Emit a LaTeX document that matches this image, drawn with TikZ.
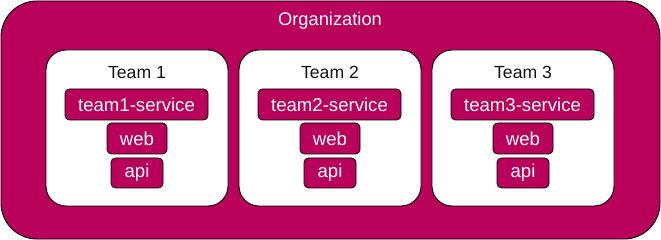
\documentclass[tikz,border=0pt]{standalone}
\usepackage{fontspec}
\setmainfont{Liberation Sans}
\definecolor{orgfill}{RGB}{185,0,90}
\definecolor{titletext}{RGB}{20,20,20}
\begin{document}
\begin{tikzpicture}[x=1pt,y=-1pt,
  orgbox/.style={draw=black,line width=0.9pt,fill=orgfill,rounded corners=36pt},
  teambox/.style={draw=black,line width=0.9pt,fill=white,rounded corners=20pt},
  svcbox/.style={draw=black,line width=0.8pt,fill=orgfill,rounded corners=4.5pt,
    text=white,inner sep=0pt,font=\fontsize{18.6}{20}\selectfont},
  lbl/.style={inner sep=0pt,font=\fontsize{18.3}{20}\selectfont}]
\useasboundingbox (0,0) rectangle (661,240);
% organization frame
\draw[orgbox] (1,1) rectangle (660,239);
\node[lbl,text=white] (org) at (330,21) {Organization};
% one white card per team, each holding its service, web and api
\foreach \i in {1,2,3}{
  \pgfmathsetmacro{\dx}{(\i-1)*193}
  \begin{scope}[xshift=\dx]
    \draw[teambox] (46,50) rectangle (228,206);
    \node[lbl,text=titletext,font=\fontsize{17.6}{20}\selectfont] (team\i) at (137,72.5) {Team \i};
    \node[svcbox,minimum width=143pt,minimum height=31pt] (svc\i) at (136.5,104.5) {team\i-service};
    \node[svcbox,minimum width=60pt,minimum height=31pt] (web\i) at (137,138.5) {web};
    \node[svcbox,minimum width=52pt,minimum height=30pt] (api\i) at (137,173) {api};
  \end{scope}
}
\end{tikzpicture}
\end{document}
